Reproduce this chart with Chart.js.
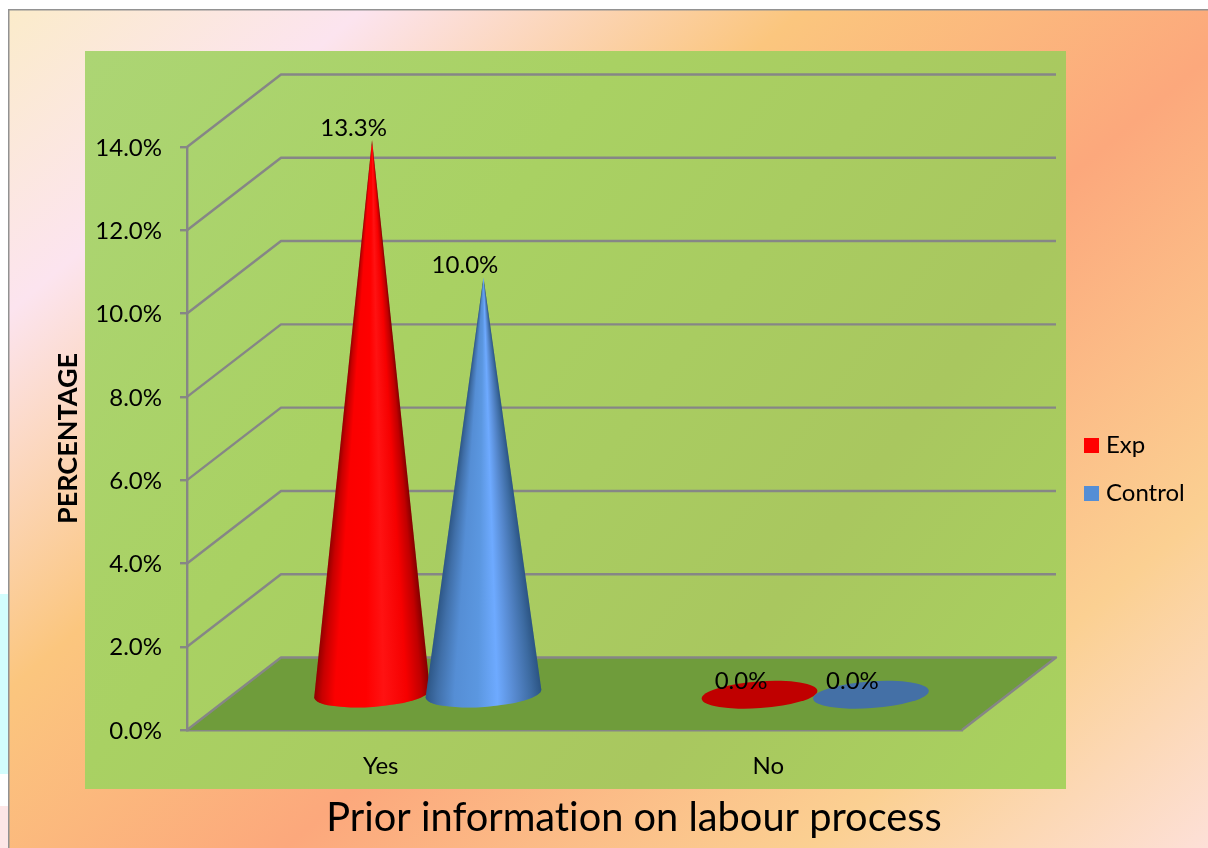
<!DOCTYPE html>
<html><head><meta charset="utf-8">
<style>html,body{margin:0;padding:0;background:#fff;overflow:hidden}canvas{display:block}</style>
<script src="https://cdn.jsdelivr.net/npm/chart.js@4/dist/chart.umd.min.js"></script>
</head><body><canvas id="c" width="1208" height="848"></canvas>
<script>
const categories = ['Yes', 'No'];
const expValues = [13.3, 0.0];
const controlValues = [10.0, 0.0];
const seriesNames = ['Exp', 'Control'];
const yMax = 14, yStep = 2;
const titleText = 'Prior information on labour process';
const yTitleText = 'PERCENTAGE';

const FONT = 'Lato, Carlito, Calibri, sans-serif';
const GRID = '#868686';
const DEPTH_X = 94, DEPTH_Y = 72.5;
const LEGEND_PAD = 24;
const swatch = c => { const k = document.createElement('canvas'); k.width = k.height = 15; const g = k.getContext('2d'); g.fillStyle = c; g.fillRect(0,0,15,15); return k; };
const looks = [
  { legend:'#ff0000', flat:'#c00000', stops:[[0,'#8e0000'],[.07,'#c80000'],[.18,'#fb0000'],[.45,'#ff0000'],[.6,'#ff1212'],[.8,'#f60000'],[.93,'#c00000'],[1,'#840000']] },
  { legend:'#558ed5', flat:'#4470a6', stops:[[0,'#2c5584'],[.1,'#406fa8'],[.25,'#558ed5'],[.45,'#5b97e0'],[.62,'#6eaaff'],[.78,'#5587cc'],[.92,'#3c6aa0'],[1,'#2c5584']] }
];
const TILT = -4*Math.PI/180, RX = 58, RY = 13.4;
function drawCone(ctx,cx,baseY,tipY,look){
  if (baseY-tipY < 1.5) {
    ctx.fillStyle = look.flat; ctx.beginPath();
    ctx.ellipse(cx,baseY,RX,RY,TILT,0,Math.PI*2); ctx.fill(); return;
  }
  const lx=cx-RX*Math.cos(TILT), ly=baseY-RX*Math.sin(TILT);
  ctx.save();
  ctx.beginPath(); ctx.moveTo(cx,tipY); ctx.lineTo(lx,ly);
  ctx.ellipse(cx,baseY,RX,RY,TILT,Math.PI,0,true); ctx.closePath(); ctx.clip();
  const bottom=Math.ceil(baseY+RY+2);
  for (let y=Math.floor(tipY);y<bottom;y++){
    const half=Math.max(.5,RX*Math.min(1,(y+.5-tipY)/(baseY-tipY)));
    const g=ctx.createLinearGradient(cx-half,0,cx+half,0);
    look.stops.forEach(s=>g.addColorStop(s[0],s[1]));
    ctx.fillStyle=g; ctx.fillRect(cx-half-3,y,2*half+6,1.3);
  }
  ctx.restore();
}
const scene = {
  id:'scene',
  afterLayout(chart){
    const l=chart.legend; l.left=1088-LEGEND_PAD; l.right=1205; l.top=433.5-LEGEND_PAD; l.bottom=640;
    const t=chart.titleBlock; t.left=54; t.right=1214; t.top=796; t.bottom=840;
  },
  beforeDraw(chart){
    const c=chart.ctx, W=chart.width, H=chart.height;
    c.textRendering='optimizeSpeed';
    c.save();
    c.fillStyle='#fff'; c.fillRect(0,0,W,H);
    c.fillStyle='#d2fdfd'; c.fillRect(0,594,8,180);
    c.fillStyle='#fde6e6'; c.fillRect(0,806,8,42);
    let g=c.createLinearGradient(0,0,930,1087);
    [[0,'#fbecc8'],[.17,'#fce4ef'],[.37,'#fbc67e'],[.58,'#fca87c'],[.82,'#fbd092'],[1,'#fde0d8']].forEach(s=>g.addColorStop(s[0],s[1]));
    c.fillStyle=g; c.fillRect(9,9,W-9,H-9);
    c.fillStyle='#929292'; c.fillRect(8,9,W-8,1.5); c.fillRect(8,9,1.5,H-9);
    g=c.createLinearGradient(85,51,1066,789);
    [[0,'#acd574'],[.35,'#a9d163'],[.72,'#a9c75f'],[1,'#a8d25f']].forEach(s=>g.addColorStop(s[0],s[1]));
    c.fillStyle=g; c.fillRect(85,51,981,738);
    c.restore();
  },
  beforeDatasetsDraw(chart){
    const c=chart.ctx, y=chart.scales.y, {left,right,bottom}=chart.chartArea;
    c.save();
    c.fillStyle='#6f9c3b'; c.beginPath();
    c.moveTo(left,bottom); c.lineTo(left+DEPTH_X,bottom-DEPTH_Y); c.lineTo(right+DEPTH_X,bottom-DEPTH_Y); c.lineTo(right,bottom); c.closePath(); c.fill();
    c.strokeStyle=GRID; c.lineWidth=2.4; c.lineJoin='round';
    for (const t of y.ticks){
      const p=y.getPixelForValue(t.value);
      c.beginPath(); c.moveTo(left,p); c.lineTo(left+DEPTH_X,p-DEPTH_Y); c.lineTo(right+DEPTH_X,p-DEPTH_Y);
      if (t.value===0) c.lineTo(right,p);
      c.stroke();
    }
    const labels=[];
    chart.data.datasets.forEach((ds,d)=>{
      chart.getDatasetMeta(d).data.forEach((bar,i)=>{
        const cx=bar.x+DEPTH_X/2, base=bar.base-DEPTH_Y/2+1, tip=bar.y-DEPTH_Y/2;
        drawCone(c,cx,base,tip,looks[d]);
        labels.push([ds.data[i].toFixed(1)+'%',cx-18.5,tip-12]);
      });
    });
    c.fillStyle='#000'; c.font='24px '+FONT; c.textAlign='center'; c.textBaseline='middle';
    labels.forEach(l=>c.fillText(l[0],l[1],l[2]));
    c.restore();
    return false;
  }
};
new Chart(document.getElementById('c'),{
  type:'bar',
  data:{labels:categories,datasets:[
    {label:seriesNames[0],data:expValues,backgroundColor:looks[0].legend},
    {label:seriesNames[1],data:controlValues,backgroundColor:looks[1].legend}
  ]},
  plugins:[scene],
  options:{
    responsive:false,animation:false,
    datasets:{bar:{barPercentage:1,categoryPercentage:.575}},
    layout:{padding:{left:0,top:147,right:246,bottom:0}},
    scales:{
      x:{
        afterFit:s=>{s.height=118-44;},
        grid:{display:true,drawOnChartArea:false,drawTicks:false},
        border:{color:GRID,width:2.4},
        ticks:{color:'#000',font:{family:FONT,size:24},padding:22,maxRotation:0}
      },
      y:{
        min:0,max:yMax,
        afterFit:s=>{s.width=187;},
        grid:{drawOnChartArea:false,color:GRID,lineWidth:2.4,tickLength:7},
        border:{color:GRID,width:2.4},
        ticks:{stepSize:yStep,color:'#000',font:{family:FONT,size:24},padding:18,labelOffset:1,callback:v=>v.toFixed(1)+'%'},
        title:{display:true,text:yTitleText,color:'#000',font:{family:FONT,size:27,weight:'bold'},padding:{top:52,bottom:0}}
      }
    },
    plugins:{
      tooltip:{enabled:false},
      title:{display:true,text:titleText,position:'bottom',fullSize:false,color:'#000',font:{family:FONT,size:39.75,weight:'normal',lineHeight:'44px'},padding:0},
      legend:{
        position:'chartArea',align:'start',
        labels:{color:'#000',font:{family:FONT,size:24},usePointStyle:true,pointStyleWidth:6,boxHeight:15,padding:LEGEND_PAD,
          generateLabels:ch=>ch.data.datasets.map((ds,i)=>({text:ds.label,pointStyle:swatch(looks[i].legend),fillStyle:looks[i].legend,strokeStyle:looks[i].legend,lineWidth:0,datasetIndex:i,hidden:false}))
        }
      }
    }
  }
});
</script></body></html>
